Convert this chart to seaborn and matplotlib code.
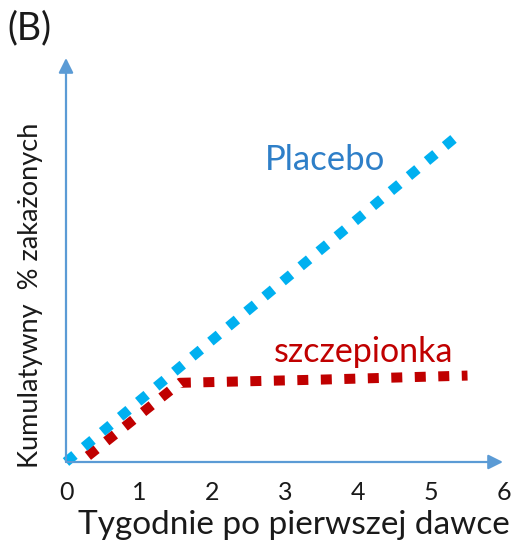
import seaborn as sns
import matplotlib.pyplot as plt
import pandas as pd

# ----------------------- Data -----------------------
weeks_placebo = [0.0, 5.37]
placebo = [0.0, 8.13]
weeks_vaccine = [0.3, 1.56, 3.5, 5.5]
vaccine = [0.15, 1.97, 2.05, 2.15]
x_ticks = [0, 1, 2, 3, 4, 5, 6]

placebo_df = pd.DataFrame({'Tygodnie': weeks_placebo, 'Procent': placebo})
vaccine_df = pd.DataFrame({'Tygodnie': weeks_vaccine, 'Procent': vaccine})

# ----------------------- Style -----------------------
sns.set_style('white')
plt.rcParams['font.family'] = ['Lato', 'DejaVu Sans']

fig = plt.figure(figsize=(5.11, 5.45), dpi=100)
ax = fig.add_axes([66 / 511, 83 / 545, 438 / 511, 404 / 545])

dots = (0, (1.1, 1.25))
sns.lineplot(data=vaccine_df, x='Tygodnie', y='Procent', ax=ax, color='#C00000',
             linewidth=7.2, linestyle=dots, clip_on=False)
sns.lineplot(data=placebo_df, x='Tygodnie', y='Procent', ax=ax, color='#00B0F0',
             linewidth=7.2, linestyle=dots, clip_on=False)

ax.set_xlim(0, 6)
ax.set_ylim(0, 10.05)
for s in ax.spines.values():
    s.set_visible(False)

# axis arrows
arrow = dict(arrowstyle='-|>', color='#5B9BD5', lw=1.6, mutation_scale=22, shrinkA=0, shrinkB=0)
ax.annotate('', xy=(0, 1.0), xytext=(0, 0), xycoords='axes fraction', arrowprops=arrow)
ax.annotate('', xy=(437 / 438, 0), xytext=(0, 0), xycoords='axes fraction', arrowprops=arrow)

ax.set_xticks(x_ticks)
ax.set_yticks([])
ax.tick_params(axis='x', length=0, pad=14, labelsize=18, labelcolor='#1a1a1a')

ax.set_xlabel('Tygodnie po pierwszej dawce', fontsize=24, color='#1a1a1a', va='center')
ax.xaxis.set_label_coords(0.52, -0.157)
ax.set_ylabel('Kumulatywny  % zakażonych', fontsize=19.5, color='#1a1a1a',
              rotation=90, va='center', ha='center')
ax.yaxis.set_label_coords(-0.082, 0.413)

ax.text(3.55, 7.51, 'Placebo', color='#2E7FC8', fontsize=25, ha='center', va='center')
ax.text(4.07, 2.74, 'szczepionka', color='#C00000', fontsize=24.5, ha='center', va='center')

fig.text(7 / 511, 1 - 28 / 545, '(B)', fontsize=27, color='#1a1a1a', ha='left', va='center')

plt.savefig('out.png', dpi=100)
